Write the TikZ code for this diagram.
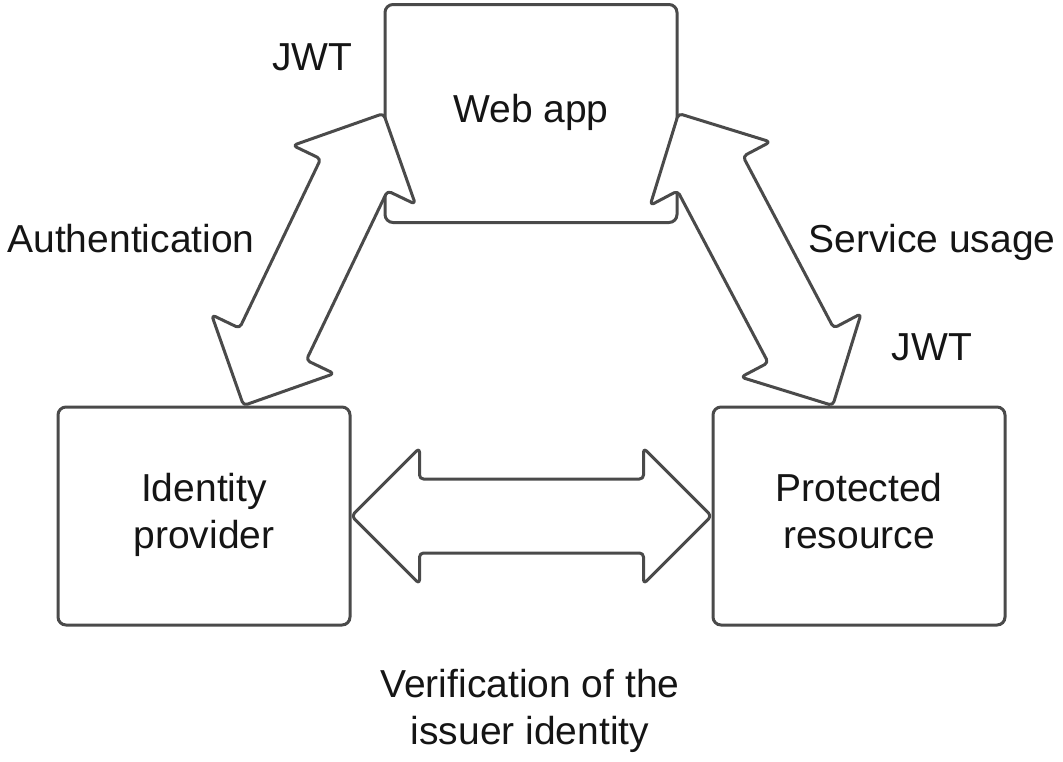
\documentclass[tikz,border=0pt]{standalone}
\usepackage{fontspec}
\setmainfont{Liberation Sans}
\usetikzlibrary{calc}
\definecolor{edgegray}{HTML}{4A4A4A}
\definecolor{textblack}{HTML}{151515}

\tikzset{
  box/.style={draw=edgegray, line width=1.5pt, rounded corners=4pt, fill=white,
    minimum width=146pt, minimum height=109pt, align=center, text=textblack},
  blockarrow/.style={draw=edgegray, fill=white, line width=1.5pt,
    rounded corners=2pt, line join=round},
  lbl/.style={anchor=base, text=textblack, inner sep=0pt},
}

% block double arrow from tip #1 to tip #2
\newcommand\dblarrow[2]{%
  \path let \p1=($(#2)-(#1)$) in
    \pgfextra{\pgfmathsetmacro\arrang{atan2(\y1,\x1)}%
      \pgfmathsetmacro\arrlen{veclen(\x1,\y1)}%
      \xdef\arrang{\arrang}\xdef\arrlen{\arrlen}};
  \filldraw[blockarrow, shift={(#1)}, rotate=\arrang]
    (0pt,0pt) -- (34pt,34pt) -- (34pt,18.5pt) -- ({\arrlen pt-34pt},18.5pt)
    -- ({\arrlen pt-34pt},34pt) -- (\arrlen pt,0pt) -- ({\arrlen pt-34pt},-34pt)
    -- ({\arrlen pt-34pt},-18.5pt) -- (34pt,-18.5pt) -- (34pt,-34pt) -- cycle;
}

\begin{document}
\begin{tikzpicture}[x=0.5pt, y=-0.5pt, font=\fontsize{19.5}{23.5}\selectfont]
  \useasboundingbox (0,0) rectangle (1063,761);

  % the three parties
  \node[box] (web)  at (531,113.5) {\strut Web app};
  \node[box] (idp)  at (204,516)   {\strut Identity\\\strut provider};
  \node[box] (prot) at (859,516)   {\strut Protected\\\strut resource};

  % arrow tips
  \coordinate (authlow) at ($(idp.north west)!0.634!(idp.north east)$);
  \coordinate (servlow) at ($(prot.north west)!0.411!(prot.north east)$);

  \dblarrow{authlow}{web.west}
  \dblarrow{web.east}{servlow}
  \dblarrow{idp.east}{prot.west}

  % labels
  \node[lbl] (jwtleft)  at (312.5,70) {JWT};
  \node[lbl] (authtxt)  at (131,252)  {Authentication};
  \node[lbl] (servtxt)  at (932,252)  {Service usage};
  \node[lbl] (jwtright) at (932,360)  {JWT};
  \node[align=center, text=textblack] (verif) at (530,712)
    {\strut Verification of the\\\strut issuer identity};
\end{tikzpicture}
\end{document}
